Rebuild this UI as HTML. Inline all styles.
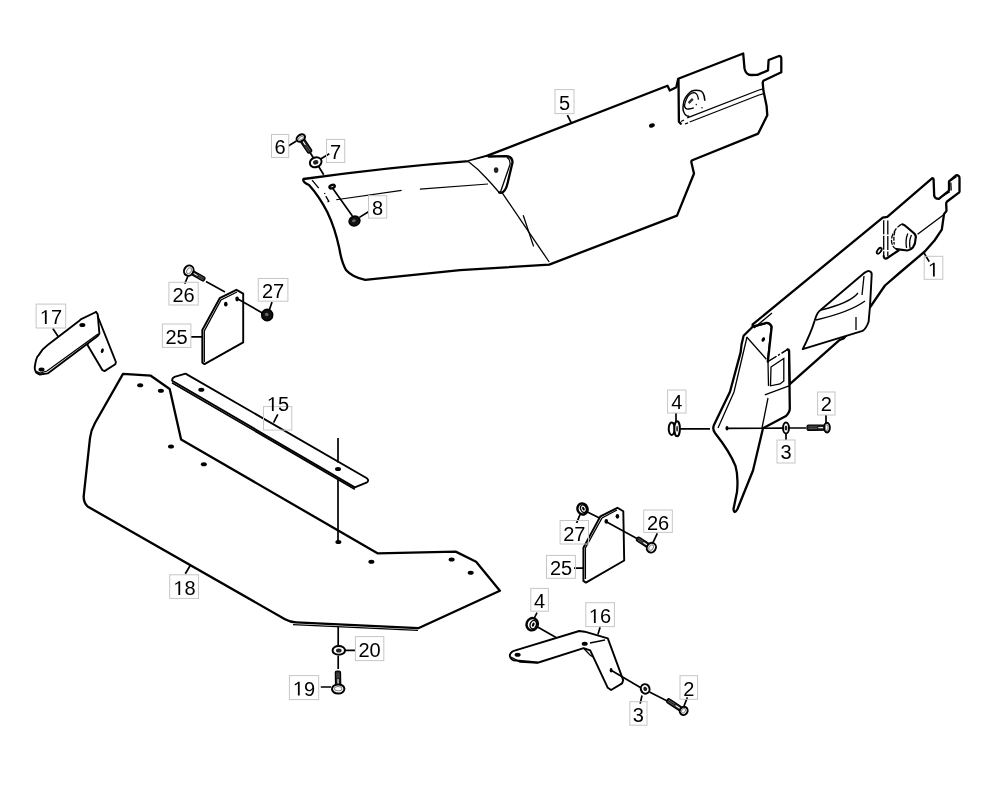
<!DOCTYPE html>
<html><head><meta charset="utf-8"><title>Parts diagram</title>
<style>
html,body{margin:0;padding:0;background:#fff;width:1000px;height:792px;overflow:hidden}
svg{display:block;will-change:transform}
.o{fill:#fff;stroke:#000;stroke-width:2.3;stroke-linejoin:round;stroke-linecap:round}
.on{fill:none;stroke:#000;stroke-width:2.3;stroke-linejoin:round;stroke-linecap:round}
.t{fill:none;stroke:#000;stroke-width:1.3}
.m{fill:none;stroke:#000;stroke-width:1.5;stroke-linecap:round}
.s{stroke-width:1.9}
.p{stroke-width:2.3}
.ld{stroke-width:1.7}
.b{fill:none;stroke:#c6c6c6;stroke-width:1}
.k{fill:#000}
text{font-family:"Liberation Sans",sans-serif;font-size:20px;fill:#000;text-anchor:middle}
</style></head><body>
<svg width="1000" height="792" viewBox="0 0 1000 792">
<rect width="1000" height="792" fill="#fff"/>
<!-- ============ PIECE 5 ============ -->
<g id="p5">
<path class="o" d="M303.5,179 Q390,167 468.6,161.1 L486.8,155.9 L667.5,85.8 L669.8,90.5 L676.3,87.3 L678.2,78.8 L743.2,53.5 L744.5,68.4 Q746,74.9 751,75 L757.5,74.9 L768,70.4 L768.6,60 L779,56 Q781.5,56 781.3,59 L781.3,72.3 L763.4,80.8 L762.7,82.7 L763.4,90.5 L766.6,106.1 L767.3,115.2 L758.2,133.6 L692.3,160.2 Q691,161 691.4,162.5 L694,173.5 L677,215.6 L549.2,264.6 L460,270.2 L365.2,279.9 Q352,277 346,270 Q341.5,262 339.4,248.8 Q335,228 327.3,212 Q319,196 309,185 Q302,182 303.5,179 Z"/>
<!-- gusset -->
<path fill="#fff" stroke="none" d="M468.3,161.6 L488.5,156.5 L506.2,156.2 Q512.5,156.5 512.5,162.5 L507.5,183.4 Q505.5,192 501,192.8 L499.2,192.5 Q492,184 486,177.7 Q478,169 468.3,161.6 Z"/>
<path class="on" d="M488.5,156.5 L506.2,156.2 Q512.5,156.5 512.5,162.5 L507.5,183.4 Q505.5,192 501,192.8 L499.2,192.5"/>
<path class="t" d="M499.2,192.5 Q492,184 486,177.7 Q478,169 468.3,161.6"/>
<path class="t" d="M506.8,157.5 Q510.5,159.5 510,164.4 L500.5,192"/>
<ellipse cx="496.1" cy="170.1" rx="2.3" ry="2.8" fill="#222"/>
<!-- dashed lines -->
<path class="t" style="stroke-width:1.1" d="M336.2,199.8 L401.6,190.4 M419.9,189.1 L488,184"/>
<path class="t" d="M312.1,180.1 L318.7,188.2 M324.5,193 L325,194 M325.8,196.2 L328.8,201.3 L327.5,202"/>
<path class="t" d="M502.4,193.1 L549.2,262"/>
<path class="t" d="M523.2,215.2 L533.6,246.4"/>
<ellipse class="k" cx="651.9" cy="125.5" rx="3" ry="2" transform="rotate(-20 651.9 125.5)"/>
<!-- right panel -->
<path class="on" d="M678.5,80 L678.9,121.7 L680.8,123.7"/>
<path class="t" d="M687.2,117.9 L759,90 M689.7,122 L759,95"/>
<path class="t" d="M681,121.5 L684,120 M685,124 L688,122.8 M759,90 L764,88.5 M759,95 L764,93.5"/>
<path class="m" d="M704.8,100.2 Q704,90 698.5,90.4 Q692,89.5 689,93.3 Q684,98 683.4,104 Q682.5,110 683.7,111.6 Q685,116 688.7,116.3"/>
<path class="t" d="M698.5,99.6 Q697.5,92.6 694,92.6 Q689,93 686.5,98.9 Q684.3,104 684.6,106.5 Q685.5,109.5 688.4,109 Q691,108.8 693.8,107.8"/>
<path d="M688.6,103.2 L692.8,98.9" stroke="#333" stroke-width="2.4" fill="none"/>
<circle cx="696.3" cy="104.6" r="0.8" fill="#222"/><circle cx="702" cy="107.8" r="0.8" fill="#222"/>
<!-- label 5 -->
<path class="t ld" d="M567.4,115.1 L571.3,122.9"/>
<rect class="b" x="555" y="89.6" width="19" height="24"/>
<text x="564.5" y="110">5</text>
</g>



<!-- ============ PIECE 1 ============ -->
<g id="p1">
<!-- skirt -->
<path fill="#fff" stroke="none" d="M743.6,335.8 Q741,345 740.6,352.4 L730,391.8 L714.2,424.6 Q712,429 715,433 Q730,452 735.5,466 Q738.5,476 737,492 L733.5,509 Q734,515 737.5,509 L753,470.5 L763,428.2 L786,416 Q789.8,412 789.8,408.5 L789.1,350.9 L787.6,349.4 L767.9,361.5 L771.7,326.7 Q770,322.5 766.4,322.9 L752.7,326.7 Z"/>
<path class="on" d="M767.9,361.5 L771.7,326.7 Q770,322.5 766.4,322.9 L752.7,326.7 L743.6,335.8 Q741,345 740.6,352.4 L730,391.8 L714.2,424.6 Q712,429 715,433 Q730,452 735.5,466 Q738.5,476 737,492 L733.5,509 Q734,515 737.5,509 L753,470.5 L763,428.2 L786,416 Q789.8,412 789.8,408.5 L789.1,350.9 Q788.5,349 787.6,349.4"/>
<path class="t" stroke-dasharray="10 2 2 2" d="M767.9,361.5 L787.6,349.4"/>
<path class="t" d="M747,337 L734,392 L718,428"/>
<!-- beam -->
<path fill="#fff" stroke="none" d="M752.7,324.4 L882.7,217.6 L887.3,216.8 L932.3,178.1 Q933.6,178.3 933.6,179.5 L934.2,195.8 Q935,199 938.9,198.9 L949,190.7 L949,181.3 L956,175.3 Q959.5,175 959.5,178 L959.5,191.4 Q959.5,192.5 957.9,193.3 L947.1,201.5 Q946,203 946.2,204 L946.5,210.9 L944,214.1 L941.8,229.7 L934.5,240.5 L924.8,251.5 L900,272.5 L885,285.5 L881.5,290.5 L870.6,306.5 L843.6,338.5 L839.1,340.3 L789.8,384.2 L789.1,350.9 L787.6,349.4 L767.9,361.5 L771.7,326.7 Q770,322.5 766.4,322.9 L752.7,326.7 Z"/>
<path class="on" d="M752.7,324.4 L882.7,217.6 L887.3,216.8 L932.3,178.1 Q933.6,178.3 933.6,179.5 L934.2,195.8 Q935,199 938.9,198.9 L949,190.7 L949,181.3 L956,175.3 Q959.5,175 959.5,178 L959.5,191.4 Q959.5,192.5 957.9,193.3 L947.1,201.5 Q946,203 946.2,204 L946.5,210.9 L944,214.1 L941.8,229.7 L934.5,240.5 L924.8,251.5 L900,272.5 L885,285.5 L881.5,290.5 L870.6,306.5 L843.6,338.5 L839.1,340.3 L789.8,384.2 L789.1,350.9 Q788.5,349 787.6,349.4 M767.9,361.5 L771.7,326.7 Q770,322.5 766.4,322.9 L752.7,326.7 L752.7,324.4"/>
<path class="t" stroke-dasharray="10 2 2 2" d="M767.9,361.5 L787.6,349.4"/>
<path class="t" d="M754,328 L772,313"/>
<!-- gusset inner -->
<path class="t" d="M746.7,337 L766.4,359.2"/>
<ellipse class="k" cx="763.3" cy="339.5" rx="1.6" ry="2.4" transform="rotate(20 763.3 339.5)"/>
<path class="t" d="M771,367 L783.8,358.5 L783.8,381 L780,384 L770.5,385.8 Z M768,362 L768.5,386"/>
<path class="t" d="M764.8,394.8 L789,385.8 M768,398 L762,428"/>
<!-- duct -->
<path class="o s" d="M802.7,349.1 Q811,333 814.8,320.3 Q817,312 820.9,309.7 L864.8,272.6 Q868,270.5 869.4,271.1 Q872,272 871.7,274.8 L870,306 L868.6,321.8 Q866,329 862.6,330.9 Z"/>
<path class="t" d="M864,276 L862,295 M821,310 Q850,303 858,293 M816,320 Q850,312 865,301 M856,317 L856,330"/>
<!-- inner flange line -->
<path class="t" d="M944,214.5 L917.6,234.2 M950.8,182.5 L951.2,190.5 M940,197.6 L949.8,191.8 M950.5,180.8 L956.5,176.8"/>
<!-- hub plate -->
<path class="t" d="M883.7,220.2 L883.7,256 M887.8,220.5 L887.8,256" stroke-dasharray="14 1.5"/>
<path class="on" style="stroke-width:2.2" d="M883.7,256 Q884,259 886.5,258.5 L898.5,250.5"/>
<ellipse cx="879.2" cy="250.8" rx="3.4" ry="1.7" transform="rotate(-55 879.2 250.8)" fill="#fff" stroke="#000" stroke-width="1.8"/>
<!-- knob -->
<path fill="#fff" stroke="none" d="M902.3,224.3 Q904.5,225 906.1,226.5 L914.3,233.5 Q916.5,236 915.6,238.5 Q915.5,244 913,247.4 Q911,250 907.4,250.5 L896.6,249.2 Q893,247.5 892.8,245.5 Q891,242 891.6,239.1 Q892,235 894.1,232.2 Q896,228 898.5,226.5 Q900.5,224.5 902.3,224.3 Z"/>
<path class="on" style="stroke-width:2.2" d="M902.3,224.3 Q904.5,225 906.1,226.5 L914.3,233.5 Q916.5,236 915.6,238.5 Q915.5,244 913,247.4 Q911,250 907.4,250.5 L896.6,249.2"/>
<path class="t" stroke-dasharray="5 1.3" d="M896.6,249.2 Q893,247.5 892.8,245.5 Q891,242 891.6,239.1 Q892,235 894.1,232.2 Q896,228 898.5,226.5 Q900.5,224.5 902.3,224.3"/>
<path class="t" stroke-dasharray="4 1.3" d="M894.8,231.5 Q893.2,238 894.3,244.5"/>
<path class="t" d="M907.8,233.5 Q905,240 906.6,248 M911.5,235 Q908.5,241 910.2,248.5"/>
<!-- label 1 -->
<path class="t ld" d="M924.2,253.3 L929.2,261.6"/>
<rect class="b" x="924.2" y="256.3" width="18.6" height="23"/>
<path d="M515,0 L515,1237 Q370,1110 197,1030 L197,1180 Q430,1290 540,1409 L696,1409 L696,0 Z" fill="#000" transform="translate(927.94 276.50) scale(0.009766 -0.009766)"/>
</g>



<!-- ============ PLATE 25 left, 26, 27 ============ -->
<g>
<path class="o s" d="M202.3,330 L219.7,298.2 L236.4,289.8 L243.2,293.6 L243.2,342.4 L204.5,364.1 L202.3,362.6 Z"/>
<path class="t" d="M204.3,362 L204.3,331 L221,300 L237,292"/>
<ellipse class="k" cx="225.8" cy="304.2" rx="1.8" ry="2.4"/>
<ellipse class="k" cx="237.1" cy="299" rx="1.8" ry="2.4"/>
<path class="t ld" d="M206,281.5 L225,292 M237.9,299 L262.9,313.3"/>
<path class="t ld" d="M184.8,283.8 L187.9,276.2 M272,302 L269,311 M190.9,336.8 L202.3,336.8"/>
<rect class="b" x="168.9" y="282.3" width="29.3" height="22.7"/>
<text x="183.5" y="302">26</text>
<rect class="b" x="258.3" y="278.5" width="29.6" height="22.7"/>
<text x="273" y="298">27</text>
<rect class="b" x="162.4" y="324" width="28.5" height="23.4"/>
<text x="176.6" y="344">25</text>
</g>

<!-- ============ PIECE 17 ============ -->
<g>
<path class="o s" d="M96,312 L115.9,362 L115.3,364.3 L104.5,371.1 L102.3,370 L87.5,345 Z"/>
<path class="o s" d="M34.7,367.7 Q36,357 38.6,355.2 Q42,349 47.7,345 L79,321.1 L80.7,319.4 L96,312 L97.7,314.3 L99.4,333.6 L97.7,335.9 L47.7,373.4 L39.8,374.5 Q34.7,373 34.7,367.7 Z"/>
<path class="t" d="M35.5,371 L40,373 L47,371 L98,334"/>
<ellipse class="k" cx="82.4" cy="325.1" rx="3" ry="2"/>
<ellipse class="k" cx="41.5" cy="369.4" rx="3" ry="2"/>
<ellipse class="k" cx="102.3" cy="350.7" rx="1.4" ry="2.4" transform="rotate(20 102.3 350.7)"/>
<path class="t ld" d="M52.8,328.5 L58.5,337"/>
<rect class="b" x="36.1" y="304.1" width="29.6" height="23.9"/>
<path d="M515,0 L515,1237 Q370,1110 197,1030 L197,1180 Q430,1290 540,1409 L696,1409 L696,0 Z" fill="#000" transform="translate(39.88 324.00) scale(0.009766 -0.009766)"/><text x="51.00" y="324.00" style="text-anchor:start">7</text>
</g>

<!-- ============ PIECE 18 ============ -->
<g>
<path class="o p" d="M123,373.9 L150.8,375.7 L169.7,389 L181.1,439.5 L377.5,553.3 L455.7,551.6 L476.1,561.8 L499.9,590.7 L418.3,628.2 L296,622.3 Q290,622 285,619.2 L87.6,506.5 Q83,502 83.8,495.1 L90,438 Q91,430 95,423 Z"/>
<path class="t" d="M293,624.6 L418,630.4"/>
<ellipse class="k" cx="140.2" cy="385.3" rx="3" ry="2"/>
<ellipse class="k" cx="160.9" cy="390.8" rx="3" ry="2"/>
<ellipse class="k" cx="171" cy="446.4" rx="3" ry="2"/>
<ellipse class="k" cx="203.8" cy="464.3" rx="3" ry="2"/>
<ellipse class="k" cx="338.4" cy="542.1" rx="3" ry="2"/>
<ellipse class="k" cx="371.4" cy="561.8" rx="3" ry="2"/>
<ellipse class="k" cx="451.6" cy="559.5" rx="3" ry="2"/>
<ellipse class="k" cx="470.7" cy="572.7" rx="3" ry="2"/>
<path class="t ld" d="M185.3,573.7 L190.4,565.2"/>
<rect class="b" x="169.7" y="574.8" width="28.8" height="23.6"/>
<path d="M515,0 L515,1237 Q370,1110 197,1030 L197,1180 Q430,1290 540,1409 L696,1409 L696,0 Z" fill="#000" transform="translate(173.38 595.00) scale(0.009766 -0.009766)"/><text x="184.50" y="595.00" style="text-anchor:start">8</text>
</g>

<!-- ============ PIECE 15 ============ -->
<g>
<path class="o s" d="M172.2,380.8 Q171.6,378.2 174.5,376.8 L185.5,373.6 L366.5,478 Q369.5,480.3 367,482.3 L354.8,487.4 Z"/>
<path class="t" style="stroke-width:1.6" d="M172,382.8 L354.8,489.2"/>
<ellipse class="k" cx="201.3" cy="389.8" rx="3" ry="2"/>
<ellipse class="k" cx="338" cy="468.9" rx="3" ry="2"/>
<path class="t ld" d="M338,438.1 L338,462.6 M338,479.4 L338,542"/>
<path class="t ld" d="M277.8,414.3 L273.6,422.7"/>
<rect class="b" x="263.5" y="406.6" width="28.3" height="23.5"/>
<path d="M515,0 L515,1237 Q370,1110 197,1030 L197,1180 Q430,1290 540,1409 L696,1409 L696,0 Z" fill="#000" transform="translate(266.88 411.00) scale(0.009766 -0.009766)"/><text x="278.00" y="411.00" style="text-anchor:start">5</text>
</g>



<!-- ============ PLATE 25 right, 26, 27 ============ -->
<g>
<path class="o s" d="M583.4,547.7 L600.4,516.3 L617.4,507.8 L623.3,511.2 L624.2,560.5 L585.9,582.6 L583.4,580.9 Z"/>
<path class="t" d="M585.4,579 L585.4,548 L602,518 L617,510"/>
<ellipse class="k" cx="606.3" cy="521.4" rx="1.8" ry="2.4"/>
<ellipse class="k" cx="617.4" cy="516.3" rx="1.8" ry="2.4"/>
<path class="t ld" d="M585.9,511.2 L599.5,518 M607.2,522.2 L636.9,538.4"/>
<path class="t ld" d="M576.6,523 L580,514.6 M657.3,533.3 L653,542.6 M574,568.1 L583.4,568.1"/>
<rect class="b" x="560.1" y="520.5" width="28.4" height="23.5"/>
<text x="574.3" y="541">27</text>
<rect class="b" x="643.7" y="510" width="28.6" height="22.4"/>
<text x="658" y="530">26</text>
<rect class="b" x="546.5" y="555.4" width="28.9" height="22.9"/>
<text x="561" y="575">25</text>
</g>

<!-- ============ PIECE 16 ============ -->
<g>
<path class="o s" d="M579.2,631 L584.7,631.7 L607.8,638.3 L623.2,680.1 L622.1,683.4 L611.1,690 L607.8,687.8 L590.2,650.4 L583.6,648.2 L538.5,662.5 L513.2,660.3 Q509.5,658 509.9,654.8 Q511,651.5 515.4,650.4 Z"/>
<path class="t" d="M583.6,648.2 L590,655 L593,657 M511,657 L520,662 L538,663"/>
<path class="t" d="M590,643 L605,640"/>
<ellipse class="k" cx="517.6" cy="654.8" rx="3" ry="2"/>
<ellipse class="k" cx="584.7" cy="643.8" rx="3" ry="2"/>
<ellipse class="k" cx="611.1" cy="670.2" rx="1.4" ry="2.2"/>
<path class="t ld" d="M536.3,626.2 L556.1,637.6 M611.1,670.2 L640.8,687.8 M649.5,692 L667.2,701"/>
<path class="t ld" d="M537,612.6 L534.1,618.5 M600.1,627.3 L597.9,634.6 M687.4,697.4 L684,706 M640.2,703.6 L642,695.5"/>
<rect class="b" x="530.8" y="588.4" width="17.6" height="22.8"/>
<text x="539.6" y="608">4</text>
<rect class="b" x="585.8" y="602.7" width="28.6" height="23.9"/>
<path d="M515,0 L515,1237 Q370,1110 197,1030 L197,1180 Q430,1290 540,1409 L696,1409 L696,0 Z" fill="#000" transform="translate(588.88 623.00) scale(0.009766 -0.009766)"/><text x="600.00" y="623.00" style="text-anchor:start">6</text>
<rect class="b" x="680" y="675.7" width="17.6" height="23.6"/>
<text x="688.8" y="696">2</text>
<rect class="b" x="629.8" y="701.7" width="17.2" height="23.5"/>
<text x="638.4" y="722">3</text>
</g>

<path class="t ld" d="M310.4,153 L323.7,174.7 M331.4,186.6 L352.4,216"/>
<g transform="translate(300.8 138.0) rotate(56.3)">
<rect x="0" y="-2.40" width="17.3" height="4.80" rx="1.5" fill="#1e1e1e" stroke="#000" stroke-width="1.2"/>
<path d="M3.7,0 L8.4,0" stroke="#fff" stroke-width="1.1"/>
<path d="M9.3,-0.8 L15.8,-0.8 M9.3,0.9 L15.8,0.9" stroke="#777" stroke-width="0.6"/>
<ellipse cx="0" cy="0" rx="3.2" ry="4.6" fill="#fff" stroke="#000" stroke-width="2"/>
<ellipse cx="0.3" cy="0" rx="1.4" ry="2.8" fill="none" stroke="#888" stroke-width="1"/>
</g>
<g transform="translate(315.7 162.3) rotate(-20.0)">
<ellipse cx="0" cy="0" rx="6.0" ry="4.8" fill="#fff" stroke="#000" stroke-width="2"/>
<ellipse cx="0" cy="0" rx="2.7" ry="2.2" fill="#222" stroke="none"/>
</g>
<ellipse class="o" cx="332.1" cy="186.6" rx="2.8" ry="1.6" transform="rotate(-20 332.1 186.6)"/>
<g transform="translate(354.5 221.0) rotate(-20.0)">
<ellipse cx="0" cy="0" rx="5.5" ry="4.8" fill="#111" stroke="#000" stroke-width="1.5"/>
<ellipse cx="-0.5" cy="-0.5" rx="1.9" ry="1.4" fill="#666"/>
</g>
<path class="t ld" d="M288.7,145.7 L296.4,141.1 M320.2,159.3 L329.3,153.7 M359.4,217.4 L368.5,211.8"/>
<rect class="b" x="271.5" y="134.5" width="17.2" height="23.0"/>
<text x="280.1" y="153.5">6</text>
<rect class="b" x="326.5" y="139.4" width="18.2" height="23.1"/>
<text x="335.6" y="158.5">7</text>
<rect class="b" x="368.5" y="195.7" width="18.2" height="22.4"/>
<text x="377.6" y="215.0">8</text>
<path class="t ld" d="M680,428.8 L710,428.8 M726,428.4 L782,428.2 M790,428 L806,428"/>
<ellipse class="k" cx="727" cy="428.2" rx="1.5" ry="2.2"/>
<ellipse cx="671.7" cy="428.8" rx="3" ry="6.2" fill="#fff" stroke="#000" stroke-width="2"/>
<ellipse cx="677.1" cy="428.8" rx="2.8" ry="7.5" fill="#fff" stroke="#000" stroke-width="2"/>
<ellipse cx="677.1" cy="428.8" rx="1" ry="3" fill="#333"/>
<g transform="translate(786.0 428.0) rotate(0.0)">
<ellipse cx="0" cy="0" rx="3.0" ry="5.5" fill="#fff" stroke="#000" stroke-width="2"/>
<ellipse cx="0" cy="0" rx="1.4" ry="2.5" fill="#222" stroke="none"/>
</g>
<g transform="translate(827.0 427.6) rotate(179.4)">
<rect x="0" y="-2.60" width="20.0" height="5.20" rx="1.5" fill="#1e1e1e" stroke="#000" stroke-width="1.2"/>
<path d="M3.3,0 L8.8,0" stroke="#fff" stroke-width="1.1"/>
<path d="M9.8,-0.8 L18.5,-0.8 M9.8,0.9 L18.5,0.9" stroke="#777" stroke-width="0.6"/>
<ellipse cx="0" cy="0" rx="2.8" ry="4.8" fill="#fff" stroke="#000" stroke-width="2"/>
<ellipse cx="0.3" cy="0" rx="1.3" ry="2.9" fill="none" stroke="#888" stroke-width="1"/>
</g>
<path class="t ld" d="M676,413 L676,422 M826,415 L826,423 M786,433 L786,440"/>
<rect class="b" x="667.6" y="390.0" width="18.4" height="23.0"/>
<text x="676.8" y="409.0">4</text>
<rect class="b" x="817.6" y="392.0" width="17.4" height="23.0"/>
<text x="826.3" y="411.0">2</text>
<rect class="b" x="777.0" y="440.0" width="18.0" height="23.0"/>
<text x="786.0" y="459.0">3</text>
<g transform="translate(188.8 270.6) rotate(29.9)">
<rect x="0" y="-2.10" width="18.2" height="4.20" rx="1.5" fill="#1e1e1e" stroke="#000" stroke-width="1.2"/>
<path d="M5.1,0 L10.1,0" stroke="#fff" stroke-width="1.1"/>
<path d="M11.0,-0.8 L16.7,-0.8 M11.0,0.9 L16.7,0.9" stroke="#777" stroke-width="0.6"/>
<ellipse cx="0" cy="0" rx="4.6" ry="5.3" fill="#fff" stroke="#000" stroke-width="2"/>
<ellipse cx="0.3" cy="0" rx="2.1" ry="3.2" fill="none" stroke="#888" stroke-width="1"/>
</g>
<g transform="translate(267.2 315.0) rotate(0.0)">
<ellipse cx="0" cy="0" rx="5.5" ry="5.8" fill="#111" stroke="#000" stroke-width="1.5"/>
<ellipse cx="-0.5" cy="-0.5" rx="1.9" ry="1.7" fill="#666"/>
</g>
<path class="t ld" d="M338.2,627 L338.2,646 M338.2,656 L338.2,669"/>
<g transform="translate(338.8 650.4) rotate(0.0)">
<ellipse cx="0" cy="0" rx="6.2" ry="4.4" fill="#fff" stroke="#000" stroke-width="2"/>
<ellipse cx="0" cy="0" rx="2.8" ry="2.0" fill="#222" stroke="none"/>
</g>
<g transform="translate(338.2 689.0) rotate(-91.0)">
<rect x="0" y="-2.60" width="18.0" height="5.20" rx="1.5" fill="#1e1e1e" stroke="#000" stroke-width="1.2"/>
<path d="M5.1,0 L10.0,0" stroke="#fff" stroke-width="1.1"/>
<path d="M10.9,-0.8 L16.5,-0.8 M10.9,0.9 L16.5,0.9" stroke="#777" stroke-width="0.6"/>
<ellipse cx="0" cy="0" rx="4.6" ry="6.2" fill="#fff" stroke="#000" stroke-width="2"/>
<ellipse cx="0.3" cy="0" rx="2.1" ry="3.7" fill="none" stroke="#888" stroke-width="1"/>
</g>
<path class="t ld" d="M344.8,650.4 L355,650.4 M320.8,687 L331,687"/>
<rect class="b" x="355.4" y="636.6" width="28.4" height="24.0"/>
<text x="369.6" y="656.6">20</text>
<rect class="b" x="289.4" y="675.6" width="29.3" height="24.0"/>
<path d="M515,0 L515,1237 Q370,1110 197,1030 L197,1180 Q430,1290 540,1409 L696,1409 L696,0 Z" fill="#000" transform="translate(292.88 695.60) scale(0.009766 -0.009766)"/><text x="304.00" y="695.60" style="text-anchor:start">9</text>
<g transform="translate(651.4 547.7) rotate(-147.3)">
<rect x="0" y="-2.20" width="17.2" height="4.40" rx="1.5" fill="#1e1e1e" stroke="#000" stroke-width="1.2"/>
<path d="M4.9,0 L9.6,0" stroke="#fff" stroke-width="1.1"/>
<path d="M10.4,-0.8 L15.7,-0.8 M10.4,0.9 L15.7,0.9" stroke="#777" stroke-width="0.6"/>
<ellipse cx="0" cy="0" rx="4.4" ry="5.0" fill="#fff" stroke="#000" stroke-width="2"/>
<ellipse cx="0.3" cy="0" rx="2.0" ry="3.0" fill="none" stroke="#888" stroke-width="1"/>
</g>
<g transform="translate(582.5 509.0) rotate(-20.0)">
<ellipse cx="0" cy="0" rx="5.0" ry="5.6" fill="#fff" stroke="#000" stroke-width="2.4"/>
<ellipse cx="1.0" cy="0" rx="2.8" ry="3.9" fill="#fff" stroke="#000" stroke-width="1.3"/>
<ellipse cx="1.0" cy="0" rx="1.1" ry="2.0" fill="#000"/>
</g>
<g transform="translate(532.2 624.2) rotate(20.0)">
<ellipse cx="0" cy="0" rx="5.6" ry="6.2" fill="#fff" stroke="#000" stroke-width="2.4"/>
<ellipse cx="1.1" cy="0" rx="3.1" ry="4.3" fill="#fff" stroke="#000" stroke-width="1.3"/>
<ellipse cx="1.1" cy="0" rx="1.2" ry="2.2" fill="#000"/>
</g>
<g transform="translate(645.2 688.9) rotate(-20.0)">
<ellipse cx="0" cy="0" rx="4.3" ry="4.8" fill="#fff" stroke="#000" stroke-width="2"/>
<ellipse cx="0" cy="0" rx="1.9" ry="2.2" fill="#222" stroke="none"/>
</g>
<g transform="translate(683.7 710.9) rotate(-146.6)">
<rect x="0" y="-2.20" width="19.8" height="4.40" rx="1.5" fill="#1e1e1e" stroke="#000" stroke-width="1.2"/>
<path d="M4.3,0 L9.7,0" stroke="#fff" stroke-width="1.1"/>
<path d="M10.7,-0.8 L18.3,-0.8 M10.7,0.9 L18.3,0.9" stroke="#777" stroke-width="0.6"/>
<ellipse cx="0" cy="0" rx="3.8" ry="4.2" fill="#fff" stroke="#000" stroke-width="2"/>
<ellipse cx="0.3" cy="0" rx="1.7" ry="2.5" fill="none" stroke="#888" stroke-width="1"/>
</g>
</svg>
</body></html>
